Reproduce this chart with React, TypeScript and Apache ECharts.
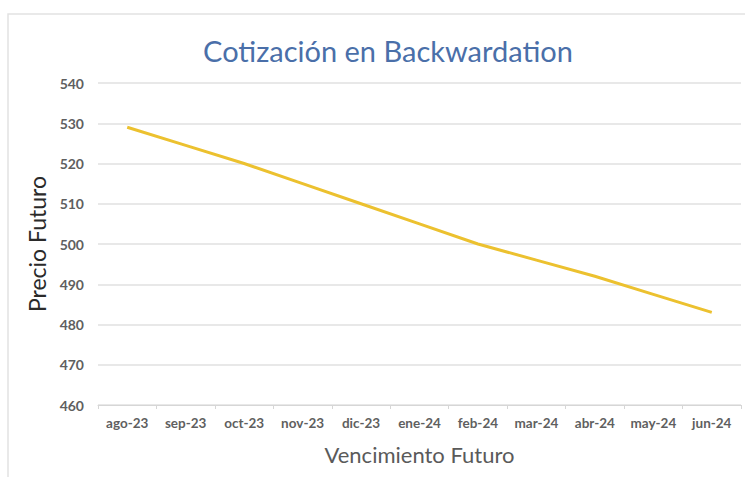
import React, { useEffect, useRef } from "react";
import * as echarts from "echarts";

const categories = [
  "ago-23", "sep-23", "oct-23", "nov-23", "dic-23", "ene-24",
  "feb-24", "mar-24", "abr-24", "may-24", "jun-24",
];
const precioFuturo = [529, 524.5, 520, 515, 510, 505, 500, 496, 492, 487.5, 483];
const yMin = 460;
const yMax = 540;
const yStep = 10;

const FONT = "Lato, 'Open Sans', sans-serif";

export default function App() {
  const ref = useRef<HTMLDivElement>(null);

  useEffect(() => {
    if (!ref.current) return;
    const chart = echarts.init(ref.current, undefined, { renderer: "svg" });
    chart.setOption({
      animation: false,
      backgroundColor: "#ffffff",
      title: {
        text: "Cotización en Backwardation",
        left: 383,
        top: 31,
        textAlign: "center",
        textStyle: {
          fontFamily: FONT,
          fontSize: 29,
          fontWeight: "normal",
          color: "#4a6fa9",
        },
      },
      graphic: [
        {
          type: "rect",
          shape: { x: 8, y: 14, width: 760, height: 480 },
          style: { fill: "none", stroke: "#e2e2e2", lineWidth: 1.5 },
          silent: true,
        },
      ],
      grid: { left: 98, right: 4, top: 83, bottom: 72 },
      xAxis: {
        type: "category",
        data: categories,
        boundaryGap: true,
        name: "Vencimiento Futuro",
        nameLocation: "middle",
        nameGap: 38,
        nameTextStyle: { fontFamily: FONT, fontSize: 22, color: "#5a5a5a" },
        axisLine: { lineStyle: { color: "#d6d6d6", width: 1 } },
        axisTick: { show: true, alignWithLabel: false, length: 4, lineStyle: { color: "#d6d6d6" } },
        axisLabel: {
          fontFamily: FONT,
          fontSize: 13.5,
          fontWeight: "bold",
          color: "#5f5f5f",
          margin: 11,
          interval: 0,
        },
      },
      yAxis: {
        type: "value",
        min: yMin,
        max: yMax,
        interval: yStep,
        name: "Precio Futuro",
        nameLocation: "middle",
        nameGap: 46,
        nameTextStyle: { fontFamily: FONT, fontSize: 23, color: "#2a2a2a" },
        axisLine: { show: false },
        axisTick: { show: false },
        splitLine: { lineStyle: { color: "#e0e0e0", width: 1.5 } },
        axisLabel: {
          fontFamily: FONT,
          fontSize: 14,
          fontWeight: "bold",
          color: "#5f5f5f",
          margin: 14,
        },
      },
      series: [
        {
          type: "line",
          data: precioFuturo,
          showSymbol: false,
          lineStyle: { color: "#ecc12f", width: 3 },
        },
      ],
    });
    return () => chart.dispose();
  }, []);

  return (
    <div
      ref={ref}
      style={{ position: "absolute", left: 0, top: 0, width: 745, height: 477 }}
    />
  );
}
